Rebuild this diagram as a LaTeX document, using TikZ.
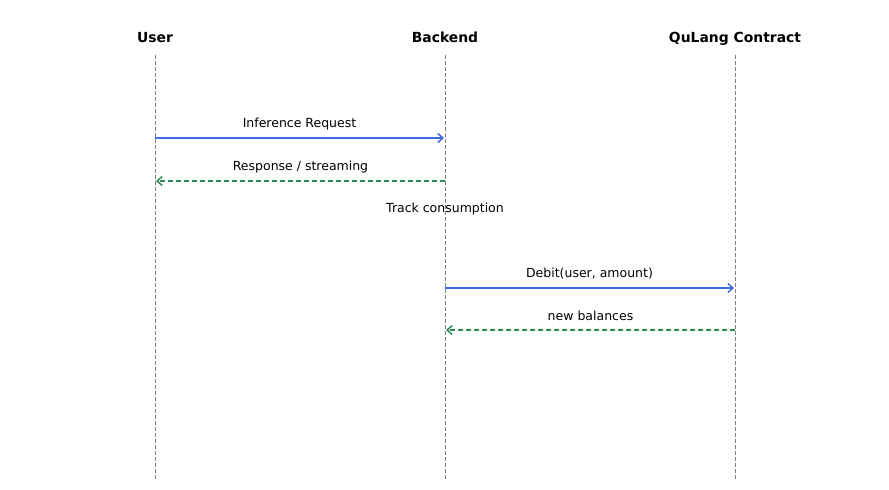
\documentclass[tikz,border=0pt]{standalone}
\usepackage{fontspec}
\setmainfont{DejaVu Sans}
\usetikzlibrary{arrows.meta}
\definecolor{reqblue}{RGB}{65,105,225}
\definecolor{respgreen}{RGB}{46,139,87}
\tikzset{
	actor/.style = {font=\fontsize{13.9}{16}\selectfont\bfseries, text height=10pt, text depth=3pt},
	msg/.style = {text=black, font=\fontsize{12.5}{15}\selectfont, text height=9.5pt, text depth=3pt},
	lifeline/.style = {gray, line width=1pt, dash pattern=on 4pt off 2pt},
	call/.style = {reqblue, line width=1.5pt, -{Straight Barb[length=5pt, width=9pt]}},
	reply/.style = {respgreen, line width=1.5pt, dash pattern=on 5.5pt off 2.5pt, -{Straight Barb[length=5pt, width=9pt]}}
}
\begin{document}
\begin{tikzpicture}[x=1pt, y=-1pt]
	\useasboundingbox (0,0) rectangle (889,490);
	\node[actor] (user) at (155,39) {User};
	\node[actor] (backend) at (445,39) {Backend};
	\node[actor] (contract) at (735,39) {QuLang Contract};
	\coordinate (userTop) at (155,55);
	\coordinate (userBot) at (155,480);
	\coordinate (backTop) at (445,55);
	\coordinate (backBot) at (445,480);
	\coordinate (contTop) at (735,55);
	\coordinate (contBot) at (735,480);
	\draw[lifeline] (userTop) -- (userBot);
	\draw[lifeline] (backTop) -- (backBot);
	\draw[lifeline] (contTop) -- (contBot);
	\coordinate (u1) at (155,138);
	\coordinate (b1) at (444,138);
	\coordinate (b2) at (445,181);
	\coordinate (u2) at (156,181);
	\coordinate (b3) at (445,288);
	\coordinate (c3) at (734,288);
	\coordinate (c4) at (735,330);
	\coordinate (b4) at (446,330);
	\draw[call] (u1) -- node[msg, above=3pt]{Inference Request} (b1);
	\draw[reply] (b2) -- node[msg, above=3pt]{Response / streaming} (u2);
	\node[msg] (track) at (445,209) {Track consumption};
	\draw[call] (b3) -- node[msg, above=3pt]{Debit(user, amount)} (c3);
	\draw[reply] (c4) -- node[msg, above=2pt]{new balances} (b4);
\end{tikzpicture}
\end{document}
